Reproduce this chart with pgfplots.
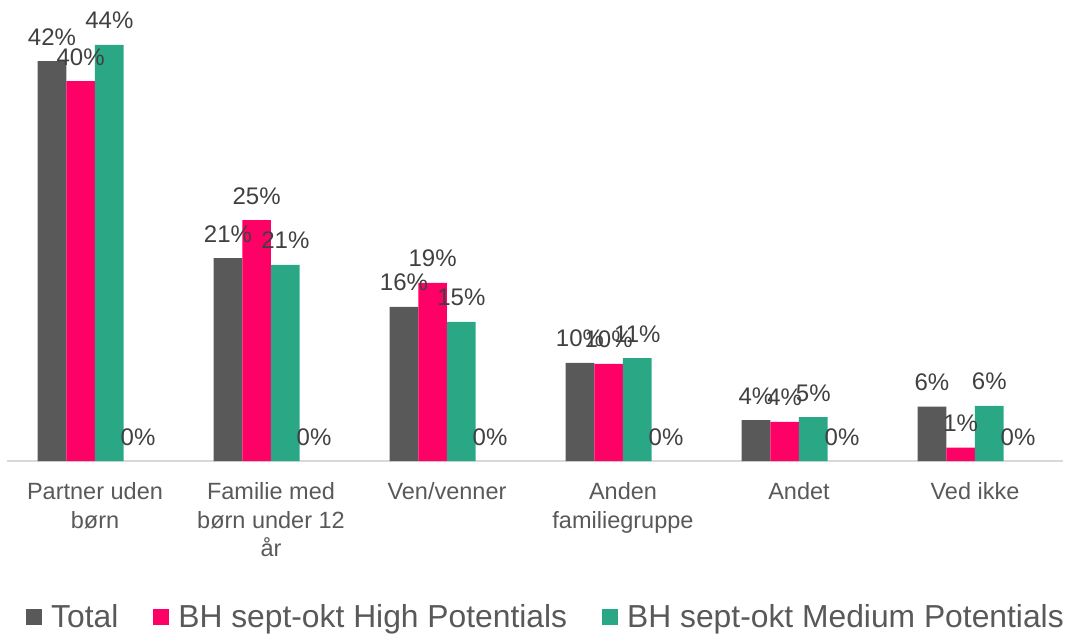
\documentclass[border=0pt]{standalone}
\usepackage{pgfplots}
\pgfplotsset{compat=1.18}
\usepackage{fontspec}
\setmainfont{Liberation Sans}
\definecolor{cTotal}{HTML}{595959}
\definecolor{cHigh}{HTML}{FF0066}
\definecolor{cMed}{HTML}{2AA886}
\definecolor{cLab}{HTML}{404040}
\definecolor{cTick}{HTML}{595959}
\definecolor{cAxis}{HTML}{D9D9D9}
\begin{document}
\begin{tikzpicture}
\begin{axis}[
  scale only axis,
  width=1056pt, height=457pt,
  at={(0pt,0pt)}, anchor=south west,
  ybar=0pt, bar width=28.7pt,
  xmin=-0.5, xmax=5.5, ymin=0, ymax=48,
  enlargelimits=false,
  axis x line*=bottom,
  axis y line=none,
  axis line style={draw=cAxis, line width=1.5pt, -},
  xtick={0,1,2,3,4,5},
  xticklabels={{Partner uden\\børn},{Familie med\\børn under 12\\år},{Ven/venner},{Anden\\familiegruppe},{Andet},{Ved ikke}},
  major tick length=0pt,
  xticklabel style={align=center, font=\fontsize{23.5}{28.5}\selectfont, text=cTick, anchor=north, yshift=-18pt},
  /pgf/number format/assume math mode=true,
  nodes near coords={\pgfmathprintnumber[fixed,precision=0]{\pgfplotspointmeta}\%},
  every node near coord/.append style={font=\fontsize{24}{28}\selectfont, text=cLab, anchor=base, yshift=16pt, inner sep=0pt},
  legend columns=3,
  legend style={draw=none, fill=none, at={(0.0151,-0.341)}, anchor=west,
    font=\fontsize{31.8}{37}\selectfont, text=cTick,
    nodes={inner sep=0pt},
    /tikz/every odd column/.append style={column sep=9pt},
    /tikz/every even column/.append style={column sep=35pt}},
  legend image code/.code={\fill[#1] (0pt,-8pt) rectangle (16pt,8pt);},
]
\addplot[fill=cTotal, draw=none] coordinates {(0,42.0) (1,21.3) (2,16.2) (3,10.3) (4,4.3) (5,5.7)};
\addlegendentry{Total}
\addplot[fill=cHigh, draw=none] coordinates {(0,39.9) (1,25.3) (2,18.7) (3,10.2) (4,4.1) (5,1.4)};
\addlegendentry{BH sept-okt High Potentials}
\addplot[fill=cMed, draw=none] coordinates {(0,43.7) (1,20.6) (2,14.6) (3,10.8) (4,4.6) (5,5.8)};
\addlegendentry{BH sept-okt Medium Potentials}
\addplot[fill=none, draw=none] coordinates {(0,0) (1,0) (2,0) (3,0) (4,0) (5,0)};
\end{axis}
\pgfresetboundingbox
\path (-7pt,-173pt) rectangle (1064pt,461pt);
\end{tikzpicture}
\end{document}
